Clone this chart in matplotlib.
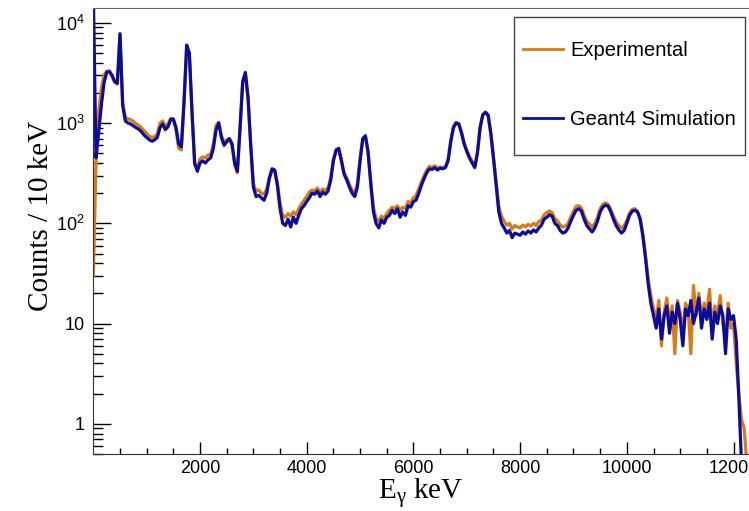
import numpy as np
import matplotlib
matplotlib.use("Agg")
import matplotlib.pyplot as plt
from matplotlib.patches import Rectangle
from matplotlib.ticker import FixedLocator, FuncFormatter, LogLocator, NullFormatter

# bin centres, keV (50 keV bins)
energy = np.arange(0, 12300, 50)

# Geant4 simulation, counts / 10 keV
simulation = [
    20000, 450, 800, 1500, 2500, 3200, 3300, 3000, 2600, 2500,
    7800, 1500, 1050, 1000, 980, 940, 900, 870, 820, 760,
    720, 680, 660, 680, 720, 900, 980, 860, 920, 1080,
    1100, 900, 620, 580, 1600, 6000, 5000, 1300, 400, 330,
    400, 420, 400, 430, 450, 560, 850, 1000, 720, 600,
    650, 700, 620, 400, 330, 900, 2600, 3200, 1800, 600,
    230, 185, 190, 180, 170, 200, 280, 350, 340, 240,
    140, 100, 95, 110, 92, 115, 100, 120, 140, 150,
    165, 180, 200, 195, 210, 185, 205, 195, 210, 270,
    420, 540, 560, 420, 310, 270, 230, 200, 185, 230,
    420, 700, 750, 520, 250, 130, 100, 90, 108, 100,
    115, 120, 135, 125, 140, 115, 130, 120, 150, 145,
    165, 170, 200, 240, 280, 320, 350, 345, 360, 340,
    355, 350, 360, 420, 650, 900, 1000, 980, 800, 620,
    520, 450, 400, 360, 500, 900, 1200, 1280, 1200, 800,
    450, 240, 130, 100, 90, 80, 85, 72, 80, 78,
    76, 82, 78, 84, 80, 86, 82, 90, 96, 110,
    115, 122, 118, 100, 95, 85, 80, 82, 90, 105,
    120, 135, 140, 132, 110, 95, 88, 82, 90, 105,
    130, 145, 152, 148, 130, 110, 95, 86, 80, 85,
    100, 120, 132, 135, 130, 110, 75, 45, 25, 16,
    12, 9, 14, 7, 12, 15, 8, 13, 10, 16,
    11, 6, 14, 12, 17, 10, 13, 18, 9, 14,
    11, 16, 7, 13, 10, 15, 12, 5, 14, 11,
    12, 7, 1.8, 0.4, 0.3, 0.3,
]

# measured spectrum
experimental = [
    30, 400, 1300, 2200, 3000, 3300, 3250, 2950, 2550, 2450,
    7600, 1600, 1150, 1100, 1080, 1040, 990, 950, 900, 840,
    790, 740, 720, 730, 780, 1000, 1050, 930, 980, 1120,
    1080, 850, 560, 540, 1700, 5800, 4900, 1200, 380, 360,
    440, 460, 450, 480, 490, 620, 950, 1020, 760, 640,
    680, 700, 600, 380, 320, 850, 2500, 3100, 1750, 620,
    250, 210, 215, 200, 195, 220, 290, 340, 330, 250,
    160, 120, 115, 125, 118, 130, 122, 140, 155, 170,
    185, 205, 215, 210, 225, 205, 220, 215, 225, 290,
    440, 520, 540, 430, 320, 285, 245, 215, 200, 250,
    450, 680, 720, 500, 260, 145, 112, 105, 118, 112,
    125, 135, 145, 140, 150, 135, 145, 140, 165, 160,
    180, 190, 220, 260, 300, 340, 370, 360, 375, 355,
    365, 360, 370, 440, 680, 930, 1020, 990, 820, 640,
    540, 465, 415, 370, 520, 920, 1220, 1290, 1180, 780,
    460, 260, 150, 118, 105, 96, 100, 88, 95, 92,
    90, 96, 92, 98, 94, 100, 95, 104, 108, 122,
    128, 133, 128, 112, 106, 96, 92, 94, 100, 116,
    132, 148, 150, 142, 120, 105, 98, 92, 100, 115,
    140, 155, 160, 155, 138, 118, 104, 95, 90, 94,
    108, 126, 138, 140, 132, 112, 78, 48, 28, 19,
    14, 11, 17, 6, 13, 18, 10, 15, 5, 17,
    13, 8, 16, 14, 5, 24, 12, 20, 11, 16,
    13, 22, 9, 15, 12, 19, 10, 7, 16, 9,
    10, 4, 2, 1.1, 0.9, 0.4,
]

xticks = [2000, 4000, 6000, 8000, 10000, 12000]

sans = "Liberation Sans"
serif = "Liberation Serif"
orange = "#d97a12"
blue = "#0b0b9c"

W, H = 749, 511
fig = plt.figure(figsize=(W / 100, H / 100), dpi=100)
ax = fig.add_axes([0.1246, 0.1115, 0.8754, 0.8725])

ax.plot(energy, experimental, color=orange, lw=2.3, label="Experimental")
ax.plot(energy, simulation, color=blue, lw=2.3, label="Geant4 Simulation")

ax.set_yscale("log")
ax.set_xlim(0, 12290)
ax.set_ylim(0.5, 14000)

ax.xaxis.set_major_locator(FixedLocator(xticks))
ax.xaxis.set_minor_locator(FixedLocator(np.arange(500, 12300, 500)))
ax.yaxis.set_major_locator(LogLocator(base=10, numticks=10))
ax.yaxis.set_minor_locator(LogLocator(base=10, subs=np.arange(2, 10), numticks=20))
ax.yaxis.set_minor_formatter(NullFormatter())


def ylab(v, pos):
    if v < 1.5:
        return "1"
    if v < 15:
        return "10"
    return r"$\mathregular{10^{%d}}$" % round(np.log10(v))


ax.yaxis.set_major_formatter(FuncFormatter(ylab))

ax.tick_params(axis="x", which="major", direction="in", length=8.6, width=1, pad=4, labelsize=13)
ax.tick_params(axis="x", which="minor", direction="in", length=4.3, width=1)
ax.tick_params(axis="y", which="major", direction="in", length=13, width=1, pad=6, labelsize=13)
ax.tick_params(axis="y", which="minor", direction="in", length=7, width=1)
for lab in ax.get_xticklabels() + ax.get_yticklabels():
    lab.set_fontfamily(sans)

for s in ["left", "bottom"]:
    ax.spines[s].set_color("#333333")
ax.spines["top"].set_color("#666666")
ax.spines["right"].set_visible(False)

ax.set_xlabel(r"E$_\mathregular{\gamma}$ keV", fontfamily=serif, fontsize=21)
ax.set_ylabel("Counts / 10 keV", fontfamily=serif, fontsize=21)
ax.xaxis.set_label_coords(0.5, -0.05)
ax.yaxis.set_label_coords(-0.06, 0.535)

# legend: entries without frame, box drawn separately (ROOT TLegend look)
leg = fig.legend(loc="center left", bbox_to_anchor=(523 / W, 1 - 85 / H),
                 prop={"family": sans, "size": 14.5}, frameon=False,
                 borderpad=0, borderaxespad=0, labelspacing=2.5,
                 handlelength=2.0, handletextpad=0.35)
for line in leg.get_lines():
    line.set_linewidth(2.0)
fig.patches.append(Rectangle((514 / W, 1 - 155 / H), 231 / W, 138 / H,
                             transform=fig.transFigure, fill=False,
                             edgecolor="#444444", lw=1.0, zorder=5))

fig.savefig("out.png", dpi=100)
